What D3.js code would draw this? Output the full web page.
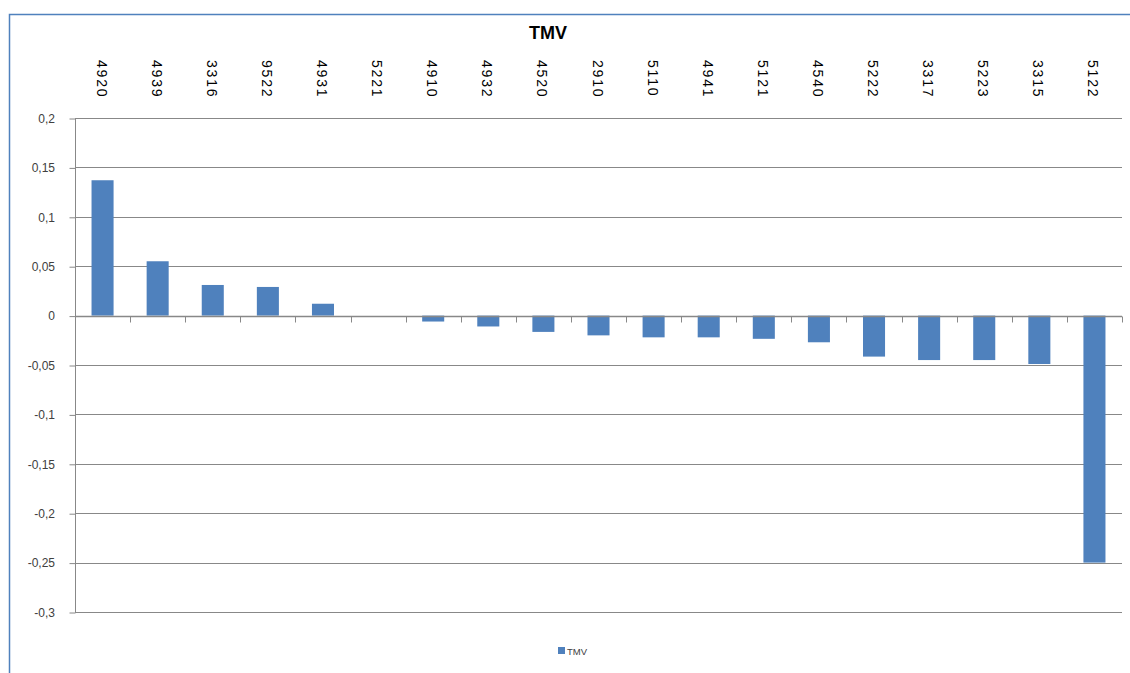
<!DOCTYPE html>
<html><head><meta charset="utf-8">
<script src="https://cdn.jsdelivr.net/npm/d3@7"></script>
<style>html,body{margin:0;padding:0;background:#fff;}svg{display:block;}</style>
</head><body>
<svg id="c" width="1130" height="673"></svg>
<script>
const categories = ["4920","4939","3316","9522","4931","5221","4910","4932","4520","2910","5110","4941","5121","4540","5222","3317","5223","3315","5122"];
const values = [0.137,0.055,0.031,0.029,0.012,0,-0.006,-0.011,-0.0165,-0.020,-0.022,-0.022,-0.0235,-0.027,-0.0415,-0.045,-0.045,-0.049,-0.25];
const yTicks = [0.2,0.15,0.1,0.05,0,-0.05,-0.1,-0.15,-0.2,-0.25,-0.3];
const seriesName = "TMV";

const svg = d3.select("#c");
const plot = {left: 75, right: 1122, top: 118, bottom: 612};

// chart border
svg.append("path").attr("d", `M9.5,673 L9.5,14.5 L1130,14.5`)
  .attr("fill","none").attr("stroke","#4f81bd").attr("stroke-width",1.5);

const x = d3.scaleBand().domain(categories).range([plot.left, plot.right]).paddingInner(0.6).paddingOuter(0.3);
const xb = d3.scaleBand().domain(categories).range([plot.left, plot.right]);
const y = d3.scaleLinear().domain([-0.3, 0.2]).range([plot.bottom, plot.top]);

const fmt = v => (v===0 ? "0" : String(+v.toFixed(2))).replace(".", ",");

// gridlines
svg.append("g").selectAll("line").data(yTicks).join("line")
  .attr("x1", plot.left).attr("x2", plot.right)
  .attr("y1", d => Math.round(y(d))+0.5).attr("y2", d => Math.round(y(d))+0.5)
  .attr("stroke","#888888").attr("stroke-width",1);

// y axis
const yAxis = d3.axisLeft(y).tickValues(yTicks).tickSize(6).tickPadding(14.5).tickFormat(fmt);
const ga = svg.append("g").attr("transform",`translate(${plot.left+0.5},0.5)`).call(yAxis);
ga.select(".domain").attr("stroke","#888888").attr("d",`M0,${plot.top}V${plot.bottom}`);
ga.selectAll(".tick line").attr("stroke","#888888");
ga.selectAll(".tick text").attr("fill","#404040").style("font-family","'Liberation Sans', Arial, sans-serif").style("font-size","12px");

// bars
svg.append("g").selectAll("rect").data(categories).join("rect")
  .attr("x", (d) => x(d))
  .attr("width", x.bandwidth())
  .attr("y", (d,i) => values[i] >= 0 ? y(values[i]) : y(0))
  .attr("height", (d,i) => Math.abs(y(values[i]) - y(0)))
  .attr("fill","#4f81bd");

// x axis at zero with ticks between categories
const zeroY = Math.round(y(0))+0.5;
svg.append("line").attr("x1",plot.left).attr("x2",plot.right).attr("y1",zeroY).attr("y2",zeroY)
  .attr("stroke","#888888").attr("stroke-width",1.5);
const bounds = categories.map(c => xb(c)).concat([plot.right]).slice(1);
svg.append("g").selectAll("line").data(bounds).join("line")
  .attr("x1", d => Math.round(d)+0.5).attr("x2", d => Math.round(d)+0.5)
  .attr("y1", zeroY).attr("y2", zeroY+6)
  .attr("stroke","#888888").attr("stroke-width",1);

// category labels rotated at top
svg.append("g").selectAll("text").data(categories).join("text")
  .attr("transform", d => `translate(${xb(d)+xb.bandwidth()/2 - 6},60) rotate(90)`)
  .attr("text-anchor","start")
  .attr("fill","#000")
  .style("font-family","'Liberation Sans', Arial, sans-serif").style("font-size","14px")
  .style("letter-spacing","1.8px")
  .text(d => d);

// title
svg.append("text").attr("x", 548).attr("y", 39).attr("text-anchor","middle")
  .style("font-family","'Liberation Sans', Arial, sans-serif").style("font-size","18px").style("font-weight","bold")
  .attr("fill","#000").text(seriesName);

// legend
svg.append("rect").attr("x",558).attr("y",647).attr("width",7).attr("height",7).attr("fill","#4f81bd");
svg.append("text").attr("x",567).attr("y",654.5)
  .style("font-family","'Liberation Sans', Arial, sans-serif").style("font-size","9.5px")
  .attr("fill","#404040").text(seriesName);
</script>
</body></html>
